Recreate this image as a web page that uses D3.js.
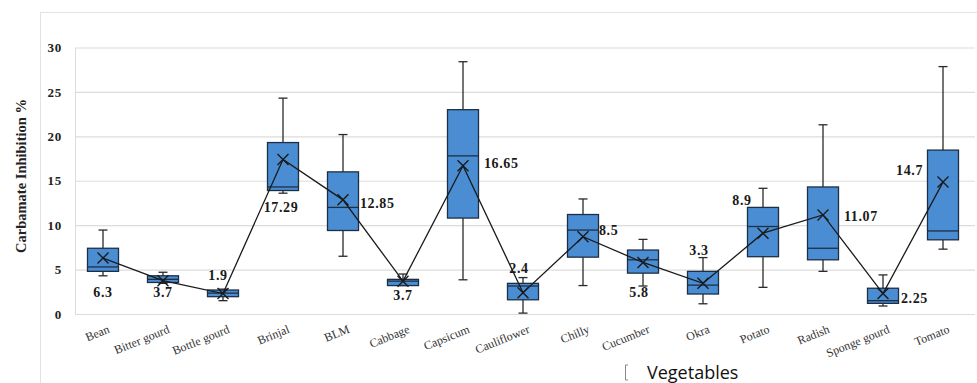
<!DOCTYPE html>
<html>
<head>
<meta charset="utf-8">
<script src="https://cdn.jsdelivr.net/npm/d3@7"></script>
<style>
  body { margin: 0; background: #fff; }
  svg { display: block; }
</style>
</head>
<body>
<script>
// size of the whole picture
var width = 977;
var height = 383;

// vegetables along the x axis
var categories = ["Bean", "Bitter gourd", "Bottle gourd", "Brinjal", "BLM", "Cabbage", "Capsicum",
  "Cauliflower", "Chilly", "Cucumber", "Okra", "Potato", "Radish", "Sponge gourd", "Tomato"];

// box plot values
var whiskerLow  = [4.3, 3.45, 1.5, 13.6, 6.5, 3.2, 3.85, 0.1, 3.2, 3.15, 1.15, 3.0, 4.8, 0.9, 7.3];
var q1          = [4.8, 3.55, 1.95, 13.9, 9.4, 3.2, 10.8, 1.6, 6.4, 4.6, 2.25, 6.45, 6.1, 1.2, 8.35];
var median      = [5.3, 3.9, 2.35, 14.3, 12.0, 3.7, 17.8, 3.15, 9.45, 6.1, 3.25, 9.85, 7.4, 1.5, 9.35];
var q3          = [7.4, 4.3, 2.7, 19.3, 16.0, 3.9, 23.0, 3.45, 11.2, 7.2, 4.8, 12.0, 14.3, 2.9, 18.45];
var whiskerHigh = [9.45, 4.7, 2.8, 24.3, 20.2, 4.5, 28.4, 4.1, 12.95, 8.4, 6.35, 14.15, 21.3, 4.4, 27.85];
var mean        = [6.3, 3.75, 2.3, 17.4, 12.85, 3.7, 16.7, 2.4, 8.7, 5.8, 3.45, 9.1, 11.15, 2.3, 14.85];
var meanLabels  = ["6.3", "3.7", "1.9", "17.29", "12.85", "3.7", "16.65", "2.4", "8.5", "5.8", "3.3", "8.9", "11.07", "2.25", "14.7"];

var yTicks = [0, 5, 10, 15, 20, 25, 30];

// where each mean label sits, relative to its X marker (layout only)
var labelPlace = [
  {dx: 0, dy: 39, a: "middle"}, {dx: 0, dy: 16, a: "middle"}, {dx: -5, dy: -14, a: "middle"},
  {dx: -2, dy: 53, a: "middle"}, {dx: 17, dy: 8, a: "start"}, {dx: 0, dy: 19, a: "middle"},
  {dx: 21, dy: 2, a: "start"}, {dx: -4, dy: -20, a: "middle"}, {dx: 16, dy: -2, a: "start"},
  {dx: -4, dy: 35, a: "middle"}, {dx: -4, dy: -28, a: "middle"}, {dx: -21, dy: -28, a: "middle"},
  {dx: 21, dy: 6, a: "start"}, {dx: 18, dy: 9, a: "start"}, {dx: -20, dy: -7, a: "end"}
];

var rows = categories.map(function(c, i) {
  return {name: c, lo: whiskerLow[i], q1: q1[i], med: median[i], q3: q3[i], hi: whiskerHigh[i],
          mean: mean[i], label: meanLabels[i], place: labelPlace[i]};
});

var serif = "'Liberation Serif', 'DejaVu Serif', serif";
var boxFill = "#4a8dd3";
var boxLine = "#1d2f45";
var ink = "#1a1a1a";
var gridColor = "#dcdcdc";

var svg = d3.select("body").append("svg")
    .attr("width", width)
    .attr("height", height);

// outer chart frame
svg.append("rect")
    .attr("x", 40.5).attr("y", 12.5)
    .attr("width", 960).attr("height", 420)
    .attr("fill", "none")
    .attr("stroke", "#e2e2e2");

// plot area edges
var plotL = 73, plotR = 973, plotT = 47.5, plotB = 314;

var x = d3.scaleBand().domain(categories).range([plotL, plotR]).padding(0);
var y = d3.scaleLinear().domain([0, 30]).range([plotB, plotT]);
var bw = x.bandwidth();
var boxW = 31;
var capW = 9;

// y axis with gridlines
var yAxis = svg.append("g")
    .attr("transform", "translate(" + (plotL + 2) + ",0)")
    .call(d3.axisLeft(y).tickValues(yTicks).tickSizeInner(-(plotR - plotL)).tickSizeOuter(0).tickPadding(13));
yAxis.select(".domain").attr("stroke", gridColor);
yAxis.selectAll(".tick line").attr("stroke", gridColor).attr("stroke-width", 1.2);
yAxis.selectAll(".tick text")
    .attr("font-family", serif)
    .attr("font-weight", "bold")
    .attr("font-size", 13)
    .attr("letter-spacing", 0.8)
    .attr("fill", "#222");

// x axis labels
var xAxis = svg.append("g")
    .attr("transform", "translate(0," + plotB + ")")
    .call(d3.axisBottom(x).tickSize(0));
xAxis.select(".domain").remove();
xAxis.selectAll(".tick text")
    .attr("font-family", serif)
    .attr("font-size", 12)
    .attr("fill", "#333")
    .attr("text-anchor", "end")
    .attr("y", 0)
    .attr("dy", "0.75em")
    .attr("transform", "translate(4,10) rotate(-22)");

// axis titles
svg.append("text")
    .attr("transform", "translate(26,176) rotate(-90)")
    .attr("text-anchor", "middle")
    .attr("font-family", serif)
    .attr("font-weight", "bold")
    .attr("font-size", 14.5)
    .attr("fill", "#222")
    .text("Carbamate Inhibition %");

svg.append("path")
    .attr("d", "M628,365 L625.5,365 L625.5,380 L628,380")
    .attr("fill", "none")
    .attr("stroke", "#888")
    .attr("stroke-width", 1);

svg.append("text")
    .attr("x", 647)
    .attr("y", 379)
    .attr("font-family", "'Open Sans', 'Noto Sans', sans-serif")
    .attr("font-size", 18)
    .attr("fill", "#111")
    .text("Vegetables");

// box plots
var boxes = svg.append("g").selectAll("g")
    .data(rows)
    .enter().append("g")
    .attr("transform", function(d) { return "translate(" + (x(d.name) + bw / 2) + ",0)"; });

boxes.append("line")
    .attr("x1", 0).attr("x2", 0)
    .attr("y1", function(d) { return y(d.hi); })
    .attr("y2", function(d) { return y(d.lo); })
    .attr("stroke", "#2a2a2a").attr("stroke-width", 1.3);

boxes.append("line")
    .attr("x1", -capW / 2).attr("x2", capW / 2)
    .attr("y1", function(d) { return y(d.hi); })
    .attr("y2", function(d) { return y(d.hi); })
    .attr("stroke", "#2a2a2a").attr("stroke-width", 1.3);

boxes.append("line")
    .attr("x1", -capW / 2).attr("x2", capW / 2)
    .attr("y1", function(d) { return y(d.lo); })
    .attr("y2", function(d) { return y(d.lo); })
    .attr("stroke", "#2a2a2a").attr("stroke-width", 1.3);

boxes.append("rect")
    .attr("x", -boxW / 2)
    .attr("width", boxW)
    .attr("y", function(d) { return y(d.q3); })
    .attr("height", function(d) { return y(d.q1) - y(d.q3); })
    .attr("fill", boxFill)
    .attr("stroke", boxLine)
    .attr("stroke-width", 1.3);

boxes.append("line")
    .attr("x1", -boxW / 2).attr("x2", boxW / 2)
    .attr("y1", function(d) { return y(d.med); })
    .attr("y2", function(d) { return y(d.med); })
    .attr("stroke", boxLine).attr("stroke-width", 1.3);

// line joining the means
var meanLine = d3.line()
    .x(function(d) { return x(d.name) + bw / 2; })
    .y(function(d) { return y(d.mean); });

svg.append("path")
    .datum(rows)
    .attr("d", meanLine)
    .attr("fill", "none")
    .attr("stroke", ink)
    .attr("stroke-width", 1.3);

// X markers for the means
var xs = 5.5;
svg.append("g").selectAll("path")
    .data(rows)
    .enter().append("path")
    .attr("d", function(d) {
      var cx = x(d.name) + bw / 2, cy = y(d.mean);
      return "M" + (cx - xs) + "," + (cy - xs) + "L" + (cx + xs) + "," + (cy + xs) +
             "M" + (cx - xs) + "," + (cy + xs) + "L" + (cx + xs) + "," + (cy - xs);
    })
    .attr("stroke", ink)
    .attr("stroke-width", 1.4);

// mean labels
svg.append("g").selectAll("text")
    .data(rows)
    .enter().append("text")
    .attr("x", function(d) { return x(d.name) + bw / 2 + d.place.dx; })
    .attr("y", function(d) { return y(d.mean) + d.place.dy; })
    .attr("text-anchor", function(d) { return d.place.a; })
    .attr("font-family", serif)
    .attr("font-weight", "bold")
    .attr("font-size", 14)
    .attr("letter-spacing", 0.6)
    .attr("fill", "#1a1a1a")
    .text(function(d) { return d.label; });
</script>
</body>
</html>
